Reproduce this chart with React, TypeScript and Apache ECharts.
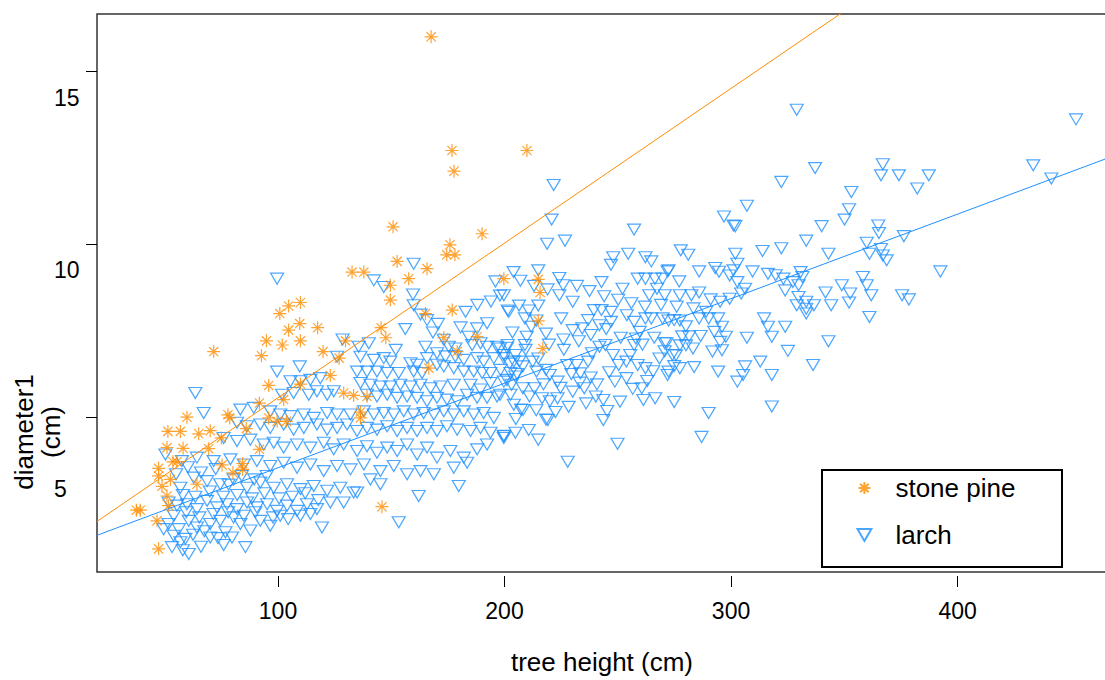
import React, { useEffect, useRef } from "react";
import * as echarts from "echarts";

// tree height (cm), diameter1 (cm)
const larchPoints: [number, number][] = [
  [452.3,13.62],[329.0,13.90],[433.4,12.29],[441.4,11.91],
  [337.1,12.21],[367.0,12.32],[366.2,12.00],[374.1,12.00],[387.3,12.00],[382.2,11.62],[322.2,11.81],[353.1,11.52],[352.1,11.02],[350.1,10.72],[340.0,10.53],[307.0,11.12],[296.9,10.81],[301.1,10.55],[301.9,10.53],[365.0,10.55],[365.3,10.33],[376.3,10.24],[359.9,10.05],[361.1,9.73],[366.2,9.87],[367.0,9.68],[368.7,9.54],[392.4,9.22],[333.2,10.11],[343.0,9.73],[322.2,9.89],[313.9,9.81],[257.2,10.43],[221.7,11.72],[220.8,10.72],[218.8,10.02],[226.7,10.11],[277.8,9.83],[281.1,9.70],[301.9,9.73],[302.8,9.44],[285.9,9.22],[293.0,9.32],[294.7,9.21],[248.0,9.63],[247.0,9.41],[254.6,9.73],[262.2,9.63],[264.8,9.51],[272.0,9.22],[277.1,8.93],[242.8,8.91],[252.1,8.72],[258.8,9.01],[262.2,9.01],[266.4,9.01],[269.8,9.01],[272.4,9.25],[267.3,8.72],[270.7,8.53],[263.9,8.53],[277.4,8.53],[282.5,8.53],[285.9,8.61],[291.0,8.41],[295.2,8.34],[299.4,8.43],[304.5,8.58],[306.2,8.72],[302.8,8.91],[299.4,9.10],[301.1,9.25],[309.5,9.22],[316.3,9.15],[319.7,9.11],[323.1,9.01],[327.3,8.91],[330.7,9.20],[331.5,9.06],[329.8,8.82],[323.9,8.67],[329.8,8.48],[333.2,8.34],[329.0,8.24],[333.2,8.14],[336.6,8.24],[333.2,8.00],[341.7,8.61],[344.2,8.24],[348.9,8.82],[352.6,8.58],[352.1,8.32],[358.2,9.06],[359.9,8.82],[361.9,8.53],[375.5,8.53],[378.5,8.41],
  [285.9,7.86],[290.1,7.86],[294.3,7.86],[296.0,7.62],[292.6,7.47],[297.7,7.33],[295.2,7.18],[296.0,6.94],[291.8,6.90],[294.3,6.32],[307.0,7.30],[314.6,7.86],[316.3,7.62],[318.0,7.33],[323.9,7.62],[312.9,6.61],[306.2,6.47],[305.3,6.22],[302.8,6.03],[290.1,5.12],[318.0,6.22],[318.0,5.31],[325.1,6.92],[336.2,6.51],[343.0,7.20],[361.1,7.90],
  [274.9,5.44],[272.0,6.22],[274.9,6.48],[270.7,6.91],[277.4,7.08],[275.7,6.79],[280.1,7.08],[283.2,6.99],[278.4,7.34],[281.5,7.34],[280.1,7.63],[277.4,7.80],[272.4,7.80],[270.7,7.14],[265.6,6.33],[262.2,6.42],[260.6,5.84],[261.3,5.50],[249.9,4.23],[227.9,3.71],[219.1,4.92],[210.7,4.63],[214.9,4.35],[204.8,4.55],[199.7,4.46],[243.6,4.92],[245.3,5.18],[208.2,5.21],[287.0,4.43],
  [214.9,9.25],[224.2,9.03],[225.9,8.82],[224.2,8.53],[230.1,8.34],[239.4,8.10],[242.8,8.10],[247.0,8.05],[247.0,7.76],[241.9,7.66],[236.9,7.81],[234.3,7.57],[230.1,7.52],[225.0,7.86],[218.3,7.42],[209.8,7.33],[209.0,7.09],[201.4,7.09],[198.0,6.99],[199.7,6.80],[204.8,6.80],[206.5,6.61],[208.1,6.47],[212.4,6.61],[214.9,6.70],[214.1,6.32],[218.3,6.37],[220.0,6.22],[223.4,6.03],[227.6,6.51],[231.8,6.51],[233.5,6.27],[236.9,6.61],[238.6,6.85],[241.9,7.04],[244.5,7.09],[247.9,6.80],[250.4,6.51],[253.8,6.61],[255.5,6.80],[257.2,7.09],[258.0,7.28],[259.7,7.47],[257.2,7.76],[262.2,7.86],[264.8,7.86],[269.8,7.86],[274.9,7.81],[271.5,7.14],[274.1,6.80],[277.4,6.42],[272.4,6.32],[258.8,6.51],[253.8,6.13],[248.7,6.03],[243.6,5.50],[240.3,5.60],[235.2,5.84],[230.1,5.74],[223.4,5.55],[220.0,5.46],[216.6,5.55],[213.2,5.84],[208.1,5.84],[203.1,5.94],[199.7,6.03],[198.0,5.65],[207.3,5.22],[218.3,4.93],[199.7,4.45],
  [198.0,8.52],[201.4,8.09],[206.4,8.23],[210.7,8.09],[214.9,8.23],[214.1,7.80],[209.0,7.86],
  [203.5,7.45],[211.8,7.62],[219.6,7.10],[226.2,6.95],[232.8,7.20],[238.1,7.38],[244.9,7.55],[251.3,7.30],[254.0,7.95],[260.9,7.10],[266.1,7.30],[268.4,6.70],[263.0,6.05],[256.6,5.82],[251.0,5.45],[246.2,6.30],[238.0,6.15],[229.5,6.25],[224.7,5.85],[217.2,5.95],[211.0,5.60],[205.6,6.25],[202.2,6.55],[209.3,6.95],[226.0,7.25],[233.2,6.00],[240.8,5.95],[236.0,5.40],[228.3,5.30],[214.0,5.20],[205.0,4.95],[222.5,5.15],[266.5,5.55],[283.7,6.45],[286.6,7.35],[289.0,8.05],[283.4,8.15],[276.0,8.20],[269.1,8.25],[262.0,8.20],[256.0,8.30],[250.2,8.40],[244.0,8.50],[237.5,8.65],[232.0,8.80],[219.0,8.70],[213.0,8.80],[207.0,8.95],[204.0,9.20],
  [128.5,7.25],[152.0,6.95],[156.2,7.55],[168.4,7.45],[180.6,7.60],[182.8,8.05],[194.0,8.35],[188.0,8.25],[170.6,7.70],
  [63.5,5.70],[67.2,5.12],[99.6,9.01],[142.3,8.96],[146.7,8.77],[159.9,9.44],[159.6,8.55],[159.9,8.24],[162.9,7.97],[165.8,7.81],[196.0,8.93],[199.7,8.53],[201.9,8.05],[187.9,7.57],[192.3,7.72],[184.2,7.33],[173.2,7.24],[175.4,7.04],[178.3,6.99],[185.7,7.09],[189.4,7.14],[192.3,7.04],[196.7,7.04],[201.1,7.01],[135.6,7.04],[140.1,7.14],[165.1,7.04],
  [99.6,6.32],[109.6,6.47],[136.4,6.75],[142.3,6.66],[146.7,6.71],[149.6,6.61],[126.1,6.75],[165.8,6.71],[170.2,6.85],[173.9,6.76],[178.3,6.76],[182.0,6.66],[158.5,6.56],[161.4,6.52],[187.9,6.71],[190.8,6.61],[195.3,6.71],[199.7,6.71],[204.1,6.61],[170.2,6.52],[173.2,6.47],[177.6,6.42],[182.0,6.32],
  [134.9,6.32],[139.3,6.32],[143.7,6.32],[148.2,6.28],[153.3,6.28],[159.9,6.32],[163.6,6.28],[186.4,6.32],[190.1,6.28],[193.8,6.28],[198.2,6.37],[202.6,6.28],
  [105.5,6.04],[109.9,6.04],[114.3,6.08],[118.7,6.13],[136.4,5.99],[140.8,5.94],[145.2,5.89],[149.6,5.89],[154.0,5.94],[158.5,5.89],[162.9,5.94],[167.3,5.84],[171.7,5.89],[177.6,5.94],[185.0,5.94],[189.4,5.80],[193.8,5.99],[201.1,6.08],[204.8,6.18],
  [101.8,5.65],[106.9,5.70],[113.6,5.65],[117.2,5.75],[121.7,5.65],[124.6,5.75],[139.3,5.65],[143.7,5.60],[148.2,5.65],[152.6,5.56],[157.0,5.60],[161.4,5.56],[165.8,5.46],[170.2,5.56],[174.6,5.51],[179.1,5.46],[183.5,5.65],[187.9,5.56],[192.3,5.56],[196.7,5.60],[202.6,5.65],
  [83.4,5.22],[89.3,5.27],[96.6,5.17],[101.0,5.08],[105.5,5.03],[111.4,5.08],[115.8,4.98],[121.7,5.12],[126.1,5.08],[132.0,5.08],[137.9,5.17],[142.3,5.08],[146.7,5.12],[151.1,5.08],[155.5,5.17],[159.9,5.08],[164.3,5.12],[168.8,5.08],[173.2,5.17],[177.6,5.08],[182.0,5.17],[186.4,5.08],[190.8,5.12],[195.3,4.98],[204.1,5.36],
  [81.9,4.84],[86.3,4.74],[92.2,4.79],[96.6,4.69],[102.5,4.79],[106.9,4.64],[111.4,4.69],[117.2,4.79],[121.7,4.64],[126.1,4.69],[130.5,4.79],[134.9,4.60],[139.3,4.69],[143.7,4.64],[148.2,4.74],[152.6,4.60],[157.0,4.69],[161.4,4.60],[165.8,4.69],[170.2,4.60],[174.6,4.74],[179.1,4.64],[185.0,4.60],[189.4,4.69],[193.8,4.55],[199.7,4.40],
  [76.0,4.40],[81.9,4.31],[87.8,4.35],[93.7,4.21],[98.1,4.26],[102.5,4.12],[108.4,4.21],[114.3,4.12],[120.2,4.26],[124.6,4.07],[129.0,4.21],[134.9,4.02],[139.3,4.16],[143.7,3.97],[148.2,4.12],[152.6,4.02],[157.0,4.21],[161.4,3.92],[165.8,4.12],[170.2,3.83],[176.1,4.02],[182.0,3.83],[187.9,4.07],[192.3,4.21],
  [50.3,3.92],[57.6,3.73],[64.2,3.83],[71.6,3.73],[79.0,3.78],[84.9,3.63],[90.7,3.73],[96.6,3.59],[102.5,3.68],[108.4,3.54],[114.3,3.63],[120.2,3.44],[126.1,3.59],[132.0,3.49],[137.9,3.63],[145.2,3.44],[151.1,3.59],[157.0,3.35],[162.9,3.44],[168.8,3.35],[177.6,3.54],[183.5,3.68],
  [56.9,2.96],[62.8,3.25],[68.7,3.15],[74.5,3.06],[80.4,3.20],[86.3,2.96],[92.2,3.11],[98.1,2.96],[104.0,3.06],[109.9,2.92],[115.8,3.01],[121.7,2.87],[127.5,2.96],[133.4,2.82],[140.8,3.20],[145.2,3.06],[179.8,3.01],
  [51.7,2.53],[55.4,2.44],[59.8,2.48],[64.2,2.34],[68.7,2.58],[73.1,2.39],[77.5,2.48],[81.9,2.34],[86.3,2.53],[90.7,2.39],[95.2,2.48],[99.6,2.29],[104.0,2.44],[108.4,2.29],[112.8,2.48],[117.2,2.34],[123.1,2.53],[129.0,2.53],[134.9,2.82],[162.1,2.72],
  [51.7,1.91],[56.2,1.76],[60.6,2.00],[64.2,1.81],[70.1,1.91],[74.5,2.00],[76.8,1.67],[80.4,2.10],[83.4,1.91],[87.8,1.72],[92.2,2.00],[96.6,1.86],[101.0,2.15],[109.9,2.15],[114.3,2.20],[119.4,1.81],[153.3,1.96],
  [53.9,1.57],[59.1,1.48],[53.2,1.24],[56.9,1.38],[60.6,1.04],[70.1,1.52],[79.7,1.52],[85.6,1.24],[49.5,1.76],
  [55.0,3.35],[60.2,3.55],[66.0,3.40],[72.5,3.50],[78.2,3.05],[84.0,3.30],[89.5,3.20],[95.0,3.30],[58.0,2.75],[63.5,2.70],[69.9,2.85],[75.8,2.70],[82.0,2.75],[88.5,2.65],[94.0,2.80],[100.5,2.65],[106.3,2.70],[112.0,2.80],[117.8,2.60],[54.0,2.15],[59.5,2.25],[65.3,2.10],[71.5,2.20],[78.0,2.25],[84.9,2.15],[90.0,2.25],[97.8,2.10],[104.5,2.05],[62.5,1.60],[67.5,1.70],[73.5,1.50],[76.0,1.30],[66.0,1.25],[58.0,1.15]
];

const pinePoints: [number, number][] = [
  [167.6,16.01],[176.8,12.72],[177.7,12.12],[209.9,12.72],[190.1,10.31],[150.8,10.51],[175.9,9.99],[174.5,9.70],[178.1,9.70],
  [152.6,9.51],[132.7,9.20],[137.9,9.20],[165.8,9.30],[157.7,9.01],[149.6,8.82],[149.6,8.39],[199.7,9.01],[176.9,8.10],[165.1,8.00],[109.9,8.32],[104.7,8.22],[100.8,8.00],[109.6,7.71],[104.7,7.52],[117.5,7.59],[94.9,7.21],[101.9,7.09],[109.9,7.21],[71.6,6.90],[92.7,6.78],[145.5,7.59],[147.6,7.30],[129.8,7.21],[119.9,6.90],[127.0,6.71],[173.2,7.30],[187.9,7.33],[179.1,6.90],[166.6,6.42],[123.1,6.21],[95.9,5.92],[109.9,5.96],[129.0,5.70],[133.4,5.63],[139.3,5.60],[102.5,5.51],[91.8,5.41],[77.9,5.07],[78.7,4.98],[59.8,5.00],[95.9,4.98],[99.6,4.88],[103.7,4.88],[136.4,5.15],[136.4,4.98],[51.4,4.59],[56.9,4.59],[65.0,4.52],[70.1,4.61],[75.0,4.40],[86.0,4.67],[58.1,4.10],[51.0,4.12],[69.4,4.09],[91.8,4.07],[53.6,3.71],[55.4,3.71],[47.3,3.52],[47.3,3.30],[52.5,3.20],[48.8,3.00],[75.3,3.62],[84.4,3.66],[80.1,3.39],[84.4,3.49],[64.2,3.06],[51.0,2.72],[51.7,2.44],[37.5,2.31],[39.2,2.31],[46.6,2.00],[47.3,1.19],[145.9,2.41],
  [214.9,8.99],[215.7,8.61],[214.9,7.79],[216.9,6.99]
];

const seriesNames = ["stone pine", "larch"];
const xTicks = [100, 200, 300, 400];
const yTicks = [5, 10, 15];
const yLabelTexts = ["5", "10", "15"];
const yLabelAt = [2.92, 9.25, 14.25];
const pineFit = { intercept: 1.085, slope: 0.04477 };
const larchFit = { intercept: 1.09, slope: 0.02447 };
const X_MIN = 20.1;
const X_MAX = 469.5;
const Y_MIN = 0.52;
const Y_MAX = 16.67;

const PINE = "#FF8C00";
const LARCH = "#1E90FF";
const FONT = "'Liberation Sans', Arial, Helvetica, sans-serif";
const STAR = "path://M5,0L5,10M0,5L10,5M1.46,1.46L8.54,8.54M1.46,8.54L8.54,1.46";
const TRI = "path://M0,0L10,0L5,8.66Z";

function fitLine(f: { intercept: number; slope: number }): [number, number][] {
  return [
    [X_MIN, f.intercept + f.slope * X_MIN],
    [X_MAX, f.intercept + f.slope * X_MAX],
  ];
}

export default function App() {
  const ref = useRef<HTMLDivElement>(null);
  useEffect(() => {
    if (!ref.current) return;
    const chart = echarts.init(ref.current, null, { renderer: "svg" });
    chart.setOption({
      animation: false,
      backgroundColor: "#fff",
      grid: {
        left: 97,
        top: 14,
        right: 0,
        bottom: 105,
        show: true,
        borderColor: "#333",
        borderWidth: 1.5,
        backgroundColor: "transparent",
      },
      xAxis: {
        type: "value",
        min: X_MIN,
        max: X_MAX,
        offset: 4,
        axisLine: { show: false },
        splitLine: { show: false },
        axisTick: { show: true, customValues: xTicks, length: 11, lineStyle: { color: "#000", width: 1 } },
        axisLabel: { customValues: xTicks, margin: 23, fontSize: 23, color: "#000", fontFamily: FONT },
        name: "tree height (cm)",
        nameLocation: "middle",
        nameGap: 73,
        nameTextStyle: { fontSize: 26, color: "#000", fontFamily: FONT, padding: [0, 8, 0, 0] },
      },
      yAxis: {
        type: "value",
        min: Y_MIN,
        max: Y_MAX,
        axisLine: { show: false },
        splitLine: { show: false },
        axisTick: { show: true, customValues: yTicks, length: 11, lineStyle: { color: "#000", width: 1 } },
        axisLabel: {
          customValues: yLabelAt,
          margin: 43,
          align: "left",
          fontSize: 23,
          color: "#000",
          fontFamily: FONT,
          formatter: (v: number) => {
            let best = 0;
            for (let i = 1; i < yLabelAt.length; i++) {
              if (Math.abs(yLabelAt[i] - v) < Math.abs(yLabelAt[best] - v)) best = i;
            }
            return yLabelTexts[best];
          },
        },
      },
      legend: {
        orient: "vertical",
        left: 855,
        top: 473,
        padding: 0,
        itemWidth: 14,
        itemHeight: 12,
        itemGap: 17,
        selectedMode: false,
        data: seriesNames,
        textStyle: { fontSize: 26, color: "#000", fontFamily: FONT, lineHeight: 30, padding: [0, 0, 0, 19] },
      },
      graphic: [
        {
          type: "rect",
          shape: { x: 822, y: 470, width: 240, height: 97 },
          style: { fill: "none", stroke: "#000", lineWidth: 2 },
        },
        {
          type: "text",
          x: 37,
          y: 432,
          rotation: Math.PI / 2,
          style: {
            text: "diameter1\n(cm)",
            fontSize: 26,
            lineHeight: 27,
            fontFamily: FONT,
            fill: "#000",
            align: "center",
            verticalAlign: "middle",
          },
        },
      ],
      series: [
        {
          type: "scatter",
          name: seriesNames[1],
          data: larchPoints,
          symbol: TRI,
          symbolSize: [13, 11],
          itemStyle: { color: "none", borderColor: LARCH, borderWidth: 1.2 },
          silent: true,
        },
        {
          type: "scatter",
          name: seriesNames[0],
          data: pinePoints,
          symbol: STAR,
          symbolSize: 13,
          itemStyle: { color: "none", borderColor: PINE, borderWidth: 1.2 },
          silent: true,
        },
        {
          type: "line",
          name: "stone pine fit",
          data: fitLine(pineFit),
          showSymbol: false,
          lineStyle: { color: PINE, width: 1 },
          silent: true,
        },
        {
          type: "line",
          name: "larch fit",
          data: fitLine(larchFit),
          showSymbol: false,
          lineStyle: { color: LARCH, width: 1 },
          silent: true,
        },
      ],
    });
    return () => chart.dispose();
  }, []);
  return (
    <div
      ref={ref}
      style={{ position: "fixed", left: 0, top: 0, width: 1115, height: 680, background: "#fff" }}
    />
  );
}
